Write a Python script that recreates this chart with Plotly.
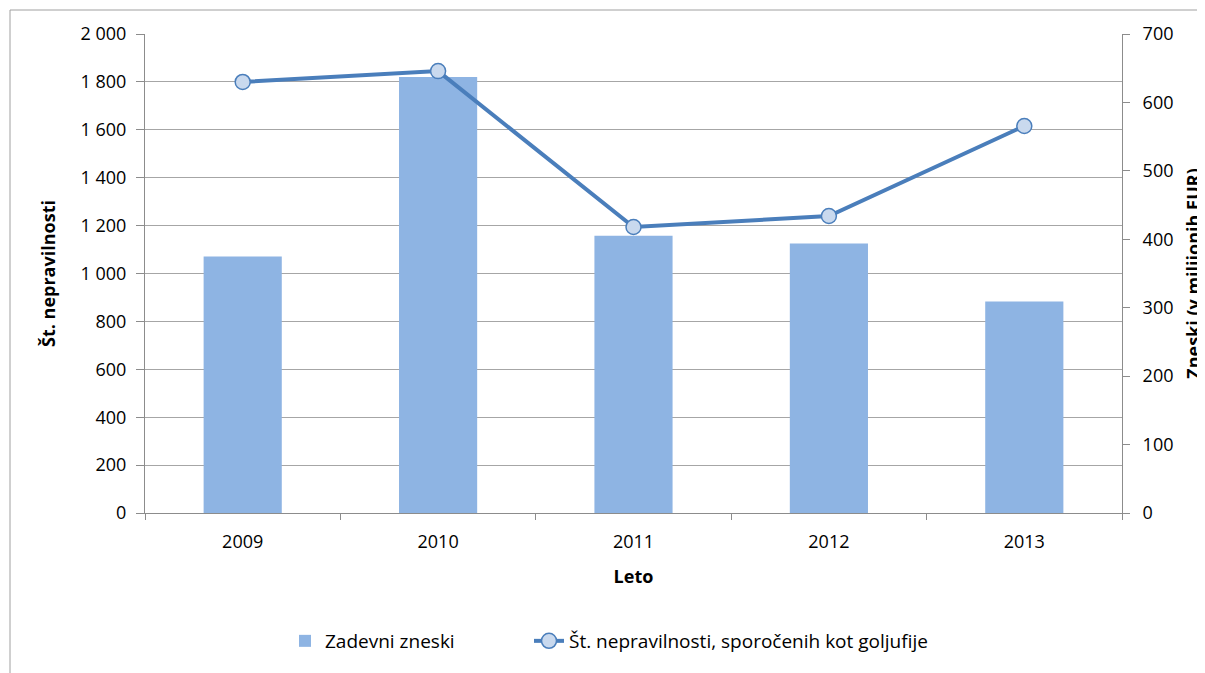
import plotly.graph_objects as go

years = ["2009", "2010", "2011", "2012", "2013"]
amounts_meur = [375, 637, 405, 394, 309]          # Zadevni zneski (v milijonih EUR)
fraud_counts = [1800, 1845, 1194, 1240, 1616]     # Št. nepravilnosti, sporočenih kot goljufije

left_ticks = list(range(0, 2001, 200))
right_ticks = list(range(0, 701, 100))

FONT = "Open Sans"
AXIS_COL = "#8c8c8c"
GRID_COL = "#a6a6a6"

# page body has an 8px margin; figure is sized so plot lands at the reference position
W, H = 1197, 665
L, T = 137, 26
R, B = 83, 160
PW = W - L - R
PH = H - T - B

fig = go.Figure()
fig.add_trace(go.Bar(
    x=years, y=amounts_meur, name="Zadevni zneski",
    marker=dict(color="#8EB4E3", line=dict(width=0)),
    yaxis="y", legend="legend",
))
fig.add_trace(go.Scatter(
    x=years, y=fraud_counts, name="Št. nepravilnosti, sporočenih kot goljufije",
    mode="lines+markers",
    line=dict(color="#4A7EBB", width=4),
    marker=dict(symbol="circle", size=15, color="#C9D9EE",
                line=dict(color="#4A7EBB", width=1.5)),
    yaxis="y2", legend="legend2",
))

leg_y = -(641 - 513) / PH
fig.update_layout(
    width=W, height=H,
    margin=dict(l=L, r=R, t=T, b=B, autoexpand=False),
    paper_bgcolor="white", plot_bgcolor="white",
    font=dict(family=FONT, size=18, color="black"),
    separators=", ",
    bargap=0.6,
    showlegend=True,
    legend=dict(orientation="h", x=(285 - 145) / PW, xanchor="left",
                y=leg_y, yanchor="middle", font=dict(size=19)),
    legend2=dict(orientation="h", x=(529 - 145) / PW, xanchor="left",
                 y=leg_y, yanchor="middle", font=dict(size=19)),
    xaxis=dict(
        type="category", showline=True, linecolor=AXIS_COL, linewidth=1,
        ticks="outside", tickson="boundaries", ticklen=6, tickcolor=AXIS_COL,
        ticklabelstandoff=12,
        showgrid=False, zeroline=False,
        title=dict(text="<b>Leto</b>", font=dict(size=18), standoff=18),
    ),
    yaxis=dict(
        side="right", range=[0, 700], tickvals=right_ticks, tickformat=",d",
        showline=True, linecolor=AXIS_COL, linewidth=1,
        ticks="outside", ticklen=7, tickcolor=AXIS_COL,
        ticklabelstandoff=9,
        showgrid=False, zeroline=False,
        title=dict(text="<b>Zneski (v milijonih EUR)</b>", font=dict(size=18), standoff=18),
    ),
    yaxis2=dict(
        overlaying="y", side="left", range=[0, 2000], tickvals=left_ticks, tickformat=",d",
        showline=True, linecolor=AXIS_COL, linewidth=1,
        ticks="outside", ticklen=8, tickcolor=AXIS_COL,
        ticklabelstandoff=6,
        showgrid=True, gridcolor=GRID_COL, gridwidth=1, zeroline=False,
        title=dict(text="<b>Št. nepravilnosti</b>", font=dict(size=18), standoff=20),
    ),
    shapes=[dict(type="rect", xref="paper", yref="paper",
                 x0=(10 - 145) / PW, x1=1.5, y0=-1.0, y1=(513 - 10) / PH,
                 line=dict(color="#a0a0a0", width=1), fillcolor="rgba(0,0,0,0)", layer="below")],
)

fig.write_html("out.html")
